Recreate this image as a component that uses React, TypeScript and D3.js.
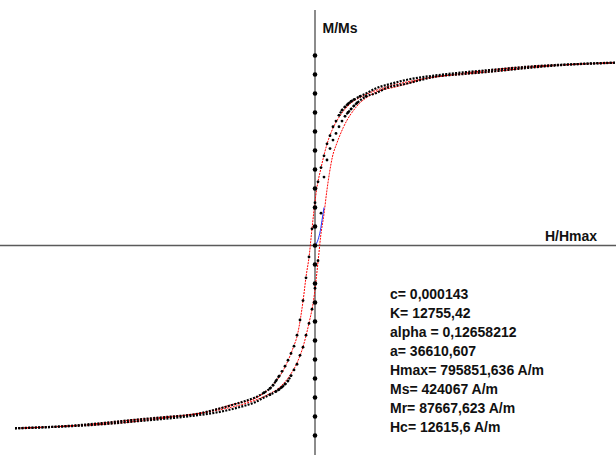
import React from 'react';
import * as d3 from 'd3';

const W = 616;
const H = 455;

// Model (red) branches, H/Hmax vs M/Ms
const modelDescH = [-1, -0.83, -0.72, -0.61, -0.49, -0.38, -0.28, -0.19, -0.14, -0.094, -0.073, -0.058, -0.048, -0.039, -0.030, -0.019, -0.011, 0.006, 0.019, 0.041, 0.060, 0.083, 0.117, 0.160, 0.227, 0.307, 0.45, 0.617, 0.75, 0.883, 1.0];
const modelDescM = [-0.962, -0.950, -0.936, -0.918, -0.901, -0.883, -0.839, -0.796, -0.734, -0.620, -0.539, -0.466, -0.380, -0.282, -0.166, -0.050, 0.073, 0.301, 0.401, 0.539, 0.618, 0.682, 0.745, 0.787, 0.829, 0.861, 0.897, 0.929, 0.946, 0.955, 0.962];
const modelAscH = [-1, -0.883, -0.75, -0.617, -0.45, -0.307, -0.227, -0.16, -0.117, -0.083, -0.060, -0.041, -0.019, -0.006, 0.011, 0.019, 0.030, 0.039, 0.048, 0.058, 0.073, 0.094, 0.14, 0.19, 0.28, 0.38, 0.49, 0.61, 0.72, 0.83, 1.0];
const modelAscM = [-0.962, -0.955, -0.946, -0.929, -0.897, -0.861, -0.829, -0.787, -0.745, -0.682, -0.618, -0.539, -0.401, -0.301, -0.073, 0.050, 0.166, 0.282, 0.380, 0.466, 0.539, 0.620, 0.734, 0.796, 0.839, 0.883, 0.901, 0.918, 0.936, 0.950, 0.962];

// Measured (black dots) branches
const measDescH = [-1, -0.9, -0.8, -0.7, -0.6, -0.5, -0.4, -0.3, -0.24, -0.2, -0.17, -0.15, -0.14, -0.13, -0.12, -0.11, -0.10, -0.09, -0.08, -0.07, -0.06, -0.05, -0.04, -0.03, -0.02, -0.01, 0, 0.01, 0.02, 0.03, 0.04, 0.05, 0.06, 0.07, 0.08, 0.09, 0.10, 0.11, 0.12, 0.13, 0.15, 0.17, 0.2, 0.25, 0.3, 0.4, 0.5, 0.6, 0.7, 0.8, 0.9, 1.0];
const measDescM = [-0.962, -0.957, -0.947, -0.933, -0.917, -0.903, -0.888, -0.85, -0.822, -0.8, -0.775, -0.752, -0.735, -0.712, -0.688, -0.662, -0.635, -0.604, -0.568, -0.53, -0.472, -0.392, -0.29, -0.17, -0.06, 0.088, 0.225, 0.335, 0.41, 0.472, 0.535, 0.578, 0.625, 0.655, 0.685, 0.712, 0.73, 0.745, 0.758, 0.768, 0.785, 0.80, 0.825, 0.85, 0.87, 0.895, 0.912, 0.926, 0.94, 0.95, 0.956, 0.962];
const measAscH = [-1, -0.9, -0.8, -0.7, -0.6, -0.5, -0.4, -0.3, -0.25, -0.2, -0.17, -0.15, -0.13, -0.12, -0.11, -0.10, -0.09, -0.08, -0.07, -0.06, -0.05, -0.04, -0.03, -0.02, -0.01, 0, 0.01, 0.02, 0.03, 0.04, 0.05, 0.06, 0.07, 0.08, 0.09, 0.10, 0.11, 0.12, 0.13, 0.14, 0.17, 0.2, 0.24, 0.3, 0.4, 0.5, 0.6, 0.7, 0.8, 0.9, 1.0];
const measAscM = [-0.962, -0.956, -0.95, -0.94, -0.926, -0.912, -0.895, -0.87, -0.85, -0.825, -0.80, -0.785, -0.768, -0.758, -0.745, -0.73, -0.712, -0.685, -0.655, -0.625, -0.578, -0.535, -0.472, -0.41, -0.335, -0.225, -0.08, 0.17, 0.36, 0.45, 0.51, 0.555, 0.59, 0.625, 0.655, 0.68, 0.70, 0.718, 0.735, 0.75, 0.785, 0.80, 0.83, 0.85, 0.888, 0.903, 0.917, 0.933, 0.947, 0.957, 0.962];

// Initial magnetisation (blue)
const initH = [0, 0.01, 0.018, 0.025, 0.03];
const initM = [0, 0.03, 0.08, 0.15, 0.2];

// Points lying on the M axis (H = 0)
const axisDotM = [-1, -0.9, -0.8, -0.7, -0.6, -0.5, -0.4, -0.3, -0.2, -0.1, 0, 0.1, 0.2, 0.3, 0.4, 0.5, 0.6, 0.7, 0.8, 0.9, 1];

const xAxisLabel = 'H/Hmax';
const yAxisLabel = 'M/Ms';
const paramLabels = [
  'c= 0,000143',
  'K= 12755,42',
  'alpha = 0,12658212',
  'a= 36610,607',
  'Hmax= 795851,636 A/m',
  'Ms= 424067 A/m',
  'Mr= 87667,623 A/m',
  'Hc= 12615,6 A/m',
];

const zip = (a: number[], b: number[]) => a.map((v, i) => [v, b[i]] as [number, number]);

export default function App() {
  const x = d3.scaleLinear().domain([-1, 1]).range([15, 615]);
  const y = d3.scaleLinear().domain([-1, 1]).range([435.5, 55.5]);
  const line = d3
    .line<[number, number]>()
    .x((d) => x(d[0]))
    .y((d) => y(d[1]))
    .curve(d3.curveMonotoneX);

  const desc = zip(modelDescH, modelDescM);
  const asc = zip(modelAscH, modelAscM);
  const mDesc = zip(measDescH, measDescM);
  const mAsc = zip(measAscH, measAscM);
  const init = zip(initH, initM);

  const clipLevel = 0.68;
  const font = 'Liberation Sans, Arial, sans-serif';

  return (
    <svg width={W} height={H} style={{ position: 'absolute', left: 0, top: 0, background: '#fff' }}>
      <defs>
        <clipPath id="flat">
          <rect x={0} y={0} width={W} height={y(clipLevel)} />
          <rect x={0} y={y(-clipLevel)} width={W} height={H - y(-clipLevel)} />
        </clipPath>
      </defs>
      <rect x={0} y={0} width={W} height={H} fill="#fff" />
      {/* axes */}
      <line x1={0} x2={W} y1={y(0)} y2={y(0)} stroke="#5a5a5a" strokeWidth={1.6} />
      <line x1={x(0)} x2={x(0)} y1={10} y2={H} stroke="#5a5a5a" strokeWidth={1.4} />

      {/* model branches */}
      <path d={line(desc) || ''} fill="none" stroke="#ff0000" strokeWidth={1} strokeDasharray="2 1" />
      <path d={line(asc) || ''} fill="none" stroke="#ff0000" strokeWidth={1} strokeDasharray="2 1" />
      <path d={line(init) || ''} fill="none" stroke="#2233ff" strokeWidth={1} />

      {/* measured: dense dotted trace in flat parts */}
      <g clipPath="url(#flat)">
        <path d={line(mDesc) || ''} fill="none" stroke="#000" strokeWidth={2.2} strokeDasharray="2 1.3" />
        <path d={line(mAsc) || ''} fill="none" stroke="#000" strokeWidth={2.2} strokeDasharray="2 1.3" />
      </g>
      {mDesc
        .filter((d) => Math.abs(d[1]) < 0.8)
        .map((d, i) => (
          <circle key={'d' + i} cx={x(d[0])} cy={y(d[1])} r={1.4} fill="#000" />
        ))}
      {mAsc
        .filter((d) => Math.abs(d[1]) < 0.8)
        .map((d, i) => (
          <circle key={'a' + i} cx={x(d[0])} cy={y(d[1])} r={1.4} fill="#000" />
        ))}

      {/* points on M axis */}
      {axisDotM.map((m, i) => (
        <circle key={'z' + i} cx={x(0)} cy={y(m)} r={2.3} fill="#000" />
      ))}

      {/* labels */}
      <text x={322.5} y={33} fontFamily={font} fontWeight="bold" fontSize={14} fill="#111">
        {yAxisLabel}
      </text>
      <text x={545} y={241} fontFamily={font} fontWeight="bold" fontSize={14} fill="#111">
        {xAxisLabel}
      </text>
      {paramLabels.map((t, i) => (
        <text key={t} x={390} y={299 + i * 19} fontFamily={font} fontWeight="bold" fontSize={14} fill="#111">
          {t}
        </text>
      ))}
    </svg>
  );
}
